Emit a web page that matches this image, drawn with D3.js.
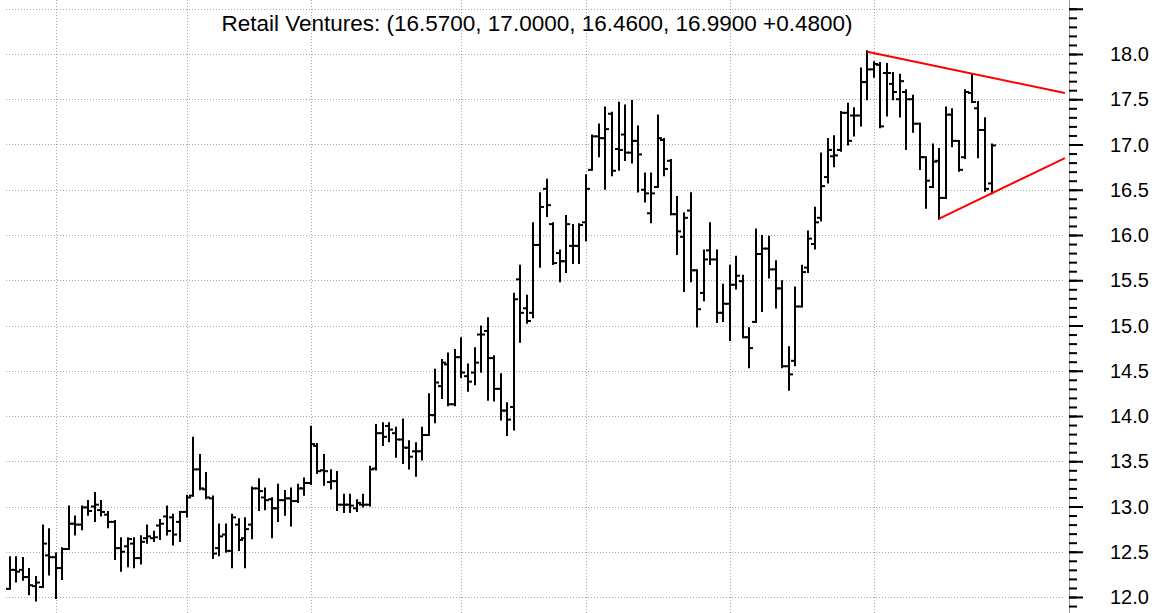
<!DOCTYPE html>
<html>
<head>
<meta charset="utf-8">
<script src="https://cdn.jsdelivr.net/npm/d3@7"></script>
<style>
  body { margin: 0; background: #fff; }
  svg { display: block; font-family: "Liberation Sans", Arial, sans-serif; }
  .grid line { stroke: #aaa; stroke-width: 1; stroke-dasharray: 1,2; }
  .bar line { stroke: #000; stroke-width: 2; }
</style>
</head>
<body>
<svg id="chart" width="1166" height="613"></svg>
<script>
const title = 'Retail Ventures';

// daily bars, index 0 = first visible session
const opens = [
  12.09, 12.30, 12.30, 12.22, 12.12, 12.11, 12.46, 12.44, 12.32, 12.53,
  12.81, 12.80, 12.99, 13.00, 12.96, 12.91, 12.83, 12.54, 12.56, 12.59,
  12.43, 12.65, 12.65, 12.79, 12.89, 12.88, 12.83, 12.94, 13.12, 13.41,
  13.19, 13.09, 12.54, 12.69, 12.51, 12.80, 12.65, 12.80, 13.20, 13.10,
  13.08, 12.98, 13.07, 13.09, 13.06, 13.20, 13.26, 13.67, 13.40, 13.27,
  13.28, 13.02, 13.02, 12.98, 13.02, 13.02, 13.42, 13.81, 13.89, 13.81,
  13.74, 13.65, 13.61, 13.61, 13.79, 14.01, 14.33, 14.57, 14.13, 14.65,
  14.44, 14.48, 14.90, 14.94, 14.64, 14.30, 14.06, 14.10, 15.51, 15.19,
  15.14, 15.89, 16.51, 16.12, 15.80, 15.71, 15.88, 15.88, 16.14, 16.72,
  17.09, 17.07, 17.34, 16.95, 17.11, 16.91, 17.04, 16.50, 16.24, 16.53,
  17.05, 16.82, 16.23, 15.98, 16.27, 15.61, 15.36, 15.83, 15.73, 15.14,
  15.24, 15.45, 15.49, 14.87, 15.04, 15.79, 15.85, 15.62, 15.41, 14.55,
  14.61, 15.21, 15.64, 15.90, 16.19, 16.64, 16.87, 16.94, 17.35, 17.32,
  17.32, 17.69, 17.83, 17.88, 17.79, 17.67, 17.50, 17.58, 17.50, 17.23,
  16.86, 16.53, 16.82, 16.41, 17.33, 17.04, 16.86, 17.57, 17.40, 17.16,
  16.57
];
const highs = [
  12.44, 12.44, 12.43, 12.31, 12.22, 12.79, 12.75, 12.48, 12.54, 13.00,
  12.89, 13.00, 13.06, 13.15, 13.06, 12.94, 12.84, 12.65, 12.65, 12.65,
  12.67, 12.79, 12.72, 12.85, 13.00, 12.91, 12.94, 13.12, 13.76, 13.57,
  13.37, 13.11, 12.80, 12.80, 12.91, 12.86, 12.87, 13.21, 13.30, 13.20,
  13.09, 13.24, 13.17, 13.20, 13.24, 13.31, 13.88, 13.69, 13.57, 13.40,
  13.38, 13.13, 13.13, 13.07, 13.13, 13.44, 13.90, 13.92, 13.92, 13.87,
  13.96, 13.72, 13.70, 13.87, 14.24, 14.51, 14.62, 14.69, 14.73, 14.86,
  14.57, 14.75, 14.99, 15.08, 14.66, 14.46, 14.14, 15.35, 15.66, 15.33,
  16.13, 16.46, 16.61, 16.13, 15.83, 16.21, 16.11, 16.12, 16.66, 17.10,
  17.22, 17.41, 17.35, 17.46, 17.43, 17.48, 17.20, 16.68, 16.68, 17.32,
  17.06, 16.83, 16.42, 16.24, 16.46, 15.61, 15.83, 16.13, 15.83, 15.45,
  15.66, 15.76, 15.55, 14.97, 16.06, 15.99, 15.98, 15.71, 15.49, 14.76,
  15.42, 15.66, 16.04, 16.30, 16.90, 17.06, 17.09, 17.36, 17.45, 17.40,
  17.84, 18.03, 17.91, 17.90, 17.89, 17.79, 17.77, 17.60, 17.54, 17.23,
  16.86, 17.00, 16.95, 17.41, 17.39, 17.04, 17.60, 17.77, 17.47, 17.29,
  17.00
];
const lows = [
  12.09, 12.17, 12.19, 12.03, 11.96, 12.11, 12.25, 11.99, 12.20, 12.53,
  12.69, 12.75, 12.91, 12.84, 12.90, 12.77, 12.42, 12.29, 12.34, 12.33,
  12.37, 12.60, 12.62, 12.64, 12.69, 12.58, 12.62, 12.89, 13.12, 13.19,
  13.09, 12.43, 12.46, 12.50, 12.33, 12.52, 12.33, 12.65, 12.96, 12.97,
  12.66, 12.84, 12.91, 12.79, 13.05, 13.13, 13.25, 13.37, 13.24, 13.20,
  12.96, 12.94, 12.94, 12.95, 13.00, 13.01, 13.41, 13.68, 13.72, 13.55,
  13.48, 13.42, 13.34, 13.52, 13.79, 13.93, 14.20, 14.12, 14.12, 14.43,
  14.28, 14.35, 14.49, 14.18, 14.17, 13.96, 13.79, 13.85, 14.82, 15.03,
  15.09, 15.65, 16.21, 15.68, 15.49, 15.59, 15.69, 15.69, 15.94, 16.72,
  16.87, 16.51, 16.66, 16.72, 16.83, 16.80, 16.48, 16.37, 16.14, 16.53,
  16.66, 16.23, 15.79, 15.38, 15.49, 14.99, 15.28, 15.68, 15.04, 15.05,
  14.84, 15.41, 14.87, 14.54, 15.04, 15.16, 15.53, 15.20, 14.54, 14.29,
  14.56, 15.21, 15.59, 15.85, 16.16, 16.58, 16.76, 16.93, 17.00, 17.10,
  17.21, 17.50, 17.75, 17.19, 17.32, 17.50, 17.31, 16.95, 17.14, 16.73,
  16.30, 16.53, 16.18, 16.41, 16.98, 16.71, 16.85, 17.47, 16.86, 16.49,
  16.46
];
const closes = [
  12.30, 12.28, 12.22, 12.13, 12.16, 12.59, 12.44, 12.32, 12.53, 12.81,
  12.80, 12.99, 12.95, 13.02, 12.94, 12.83, 12.54, 12.50, 12.64, 12.43,
  12.61, 12.67, 12.66, 12.81, 12.73, 12.69, 12.94, 13.10, 13.41, 13.20,
  13.10, 12.48, 12.67, 12.51, 12.88, 12.63, 12.75, 13.20, 13.17, 13.07,
  12.98, 13.07, 13.09, 13.06, 13.20, 13.26, 13.69, 13.39, 13.39, 13.28,
  13.02, 13.02, 13.01, 13.04, 13.02, 13.41, 13.81, 13.77, 13.85, 13.74,
  13.65, 13.55, 13.61, 13.79, 14.01, 14.37, 14.59, 14.13, 14.65, 14.48,
  14.38, 14.59, 14.90, 14.64, 14.30, 14.06, 13.96, 15.29, 15.14, 15.05,
  15.89, 16.31, 16.33, 15.69, 15.71, 16.12, 15.88, 16.11, 16.51, 17.09,
  17.07, 17.17, 16.71, 16.94, 16.91, 17.04, 16.89, 16.46, 16.46, 17.07,
  16.73, 16.23, 16.04, 16.19, 15.61, 15.18, 15.73, 15.73, 15.14, 15.24,
  15.45, 15.55, 14.87, 14.75, 15.79, 15.85, 15.62, 15.41, 14.55, 14.46,
  15.21, 15.59, 15.96, 16.14, 16.54, 16.94, 16.88, 17.35, 17.04, 17.32,
  17.69, 17.83, 17.89, 17.20, 17.79, 17.58, 17.70, 17.50, 17.23, 16.86,
  16.60, 16.81, 16.41, 17.33, 17.04, 16.72, 17.58, 17.47, 17.16, 16.51,
  16.99
];

// bar index where each month starts (vertical grid)
const monthStarts = [7, 27, 46, 69, 88, 110, 132];

// trend lines drawn on the chart: [index, price]
const upperTrend = [[131, 18.025], [161.2, 17.57]];
const lowerTrend = [[142, 16.18], [161.2, 16.85]];

const priceGrid = [12.0, 12.5, 13.0, 13.5, 14.0, 14.5, 15.0, 15.5, 16.0, 16.5, 17.0, 17.5, 18.0, 18.5];
const priceLabels = [12.0, 12.5, 13.0, 13.5, 14.0, 14.5, 15.0, 15.5, 16.0, 16.5, 17.0, 17.5, 18.0];

const W = 1166, H = 613, axisX = 1069;
const svg = d3.select('#chart');

const x = d3.scaleLinear().domain([-1.5, 161.83]).range([0, axisX]);
const y = d3.scaleLinear().domain([12, 18]).range([597, 54]);

// grid
const grid = svg.append('g').attr('class', 'grid');
grid.selectAll('.hg').data(priceGrid).join('line')
  .attr('x1', 6).attr('x2', axisX - 4)
  .attr('y1', d => Math.round(y(d)) + 0.5).attr('y2', d => Math.round(y(d)) + 0.5);
grid.selectAll('.vg').data(monthStarts).join('line')
  .attr('x1', d => Math.round(x(d)) + 0.5).attr('x2', d => Math.round(x(d)) + 0.5)
  .attr('y1', 0).attr('y2', H);

// ohlc bars
const bars = d3.range(opens.length).map(i => ({
  i, o: opens[i], h: highs[i], l: lows[i], c: closes[i]
}));
const px = d => Math.round(x(d.i));
const g = svg.append('g').attr('class', 'bar');
g.selectAll('.hl').data(bars).join('line')
  .attr('x1', px).attr('x2', px)
  .attr('y1', d => y(d.h) - 1).attr('y2', d => y(d.l) + 1);
g.selectAll('.op').data(bars).join('line')
  .attr('x1', d => px(d) - 4).attr('x2', px)
  .attr('y1', d => y(d.o)).attr('y2', d => y(d.o));
g.selectAll('.cl').data(bars).join('line')
  .attr('x1', px).attr('x2', d => px(d) + 4)
  .attr('y1', d => y(d.c)).attr('y2', d => y(d.c));

// trend lines
const trend = d3.line().x(d => x(d[0])).y(d => y(d[1]));
[upperTrend, lowerTrend].forEach(t => {
  svg.append('path').attr('d', trend(t))
    .attr('fill', 'none').attr('stroke', '#f00').attr('stroke-width', 2);
});

// right price axis
svg.append('line')
  .attr('x1', axisX + 0.5).attr('x2', axisX + 0.5).attr('y1', 0).attr('y2', H)
  .attr('stroke', '#999').attr('stroke-width', 1);

const minorTicks = d3.range(119, 186).map(v => v / 10);
svg.append('g')
  .attr('transform', `translate(${axisX},0)`)
  .call(d3.axisRight(y).tickValues(minorTicks).tickSize(8).tickFormat(''))
  .call(a => a.select('.domain').remove())
  .call(a => a.selectAll('line').attr('stroke', '#000').attr('stroke-width', 2));

svg.append('g')
  .attr('transform', `translate(${axisX},0)`)
  .call(d3.axisRight(y).tickValues(priceGrid).tickSize(14).tickFormat(''))
  .call(a => a.select('.domain').remove())
  .call(a => a.selectAll('line').attr('stroke', '#000').attr('stroke-width', 2));

svg.append('g').selectAll('text').data(priceLabels).join('text')
  .attr('x', 1110).attr('y', d => y(d)).attr('dy', '0.36em')
  .attr('font-size', 20).attr('fill', '#000')
  .text(d => d.toFixed(1));

// header with last bar values
const n = opens.length - 1;
const chg = closes[n] - closes[n - 1];
svg.append('text')
  .attr('x', 537).attr('y', 31).attr('text-anchor', 'middle')
  .attr('font-size', 22.5).attr('fill', '#000')
  .text(`${title}: (${opens[n].toFixed(4)}, ${highs[n].toFixed(4)}, ${lows[n].toFixed(4)}, ${closes[n].toFixed(4)} ${chg >= 0 ? '+' : ''}${chg.toFixed(4)})`);
</script>
</body>
</html>
